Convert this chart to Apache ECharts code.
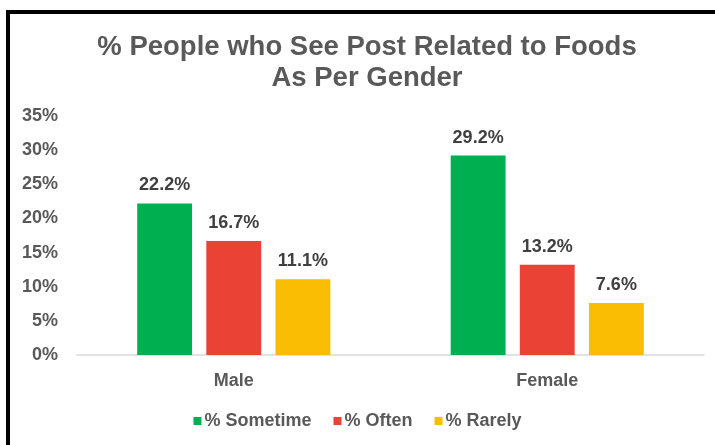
<!DOCTYPE html>
<html>
<head>
<meta charset="utf-8">
<script src="https://cdn.jsdelivr.net/npm/echarts@6/dist/echarts.min.js"></script>
<style>
html,body{margin:0;padding:0;background:#fff;}
#chart{position:absolute;left:0;top:0;width:715px;height:445px;}
#frame{position:absolute;left:6px;top:10px;width:720px;height:450px;border-left:4px solid #000;border-top:4px solid #000;pointer-events:none;}
</style>
</head>
<body>
<div id="chart"></div>
<div id="frame"></div>
<script>
var categories = ['Male', 'Female'];
var sometime = [22.2, 29.2];
var often = [16.7, 13.2];
var rarely = [11.1, 7.6];
var seriesNames = ['% Sometime', '% Often', '% Rarely'];
var yTicks = {min: 0, max: 35, interval: 5};

var chart = echarts.init(document.getElementById('chart'));
var labelStyle = {
  show: true, position: 'top', distance: 9,
  color: '#404040', fontSize: 18, fontWeight: 'bold', fontFamily: 'Liberation Sans, Arial, sans-serif',
  formatter: function (p) { return p.value.toFixed(1) + '%'; }
};
function mk(name, data, color) {
  return {
    name: name, type: 'bar', data: data, barWidth: '17.5%', barGap: '26%',
    itemStyle: {color: color}, label: labelStyle
  };
}
chart.setOption({
  animation: false,
  textStyle: {fontFamily: 'Liberation Sans, Arial, sans-serif'},
  title: {
    text: '% People who See Post Related to Foods\nAs Per Gender',
    left: 362, top: 27, textAlign: 'center',
    textStyle: {color: '#595959', fontSize: 27.5, fontWeight: 'bold', lineHeight: 31, fontFamily: 'Liberation Sans, Arial, sans-serif'}
  },
  legend: {
    data: seriesNames, bottom: 10, left: 'center', itemWidth: 8, itemHeight: 8, itemGap: 22,
    icon: 'rect',
    textStyle: {color: '#595959', fontSize: 18, fontWeight: 'bold', padding: [0, 0, 0, -2]}
  },
  grid: {left: 77, right: 11, top: 116, bottom: 90, containLabel: false},
  xAxis: {
    type: 'category', data: categories,
    axisLine: {lineStyle: {color: '#d9d9d9', width: 1.5}},
    axisTick: {show: false},
    axisLabel: {color: '#595959', fontSize: 18, fontWeight: 'bold', margin: 17}
  },
  yAxis: {
    type: 'value', min: yTicks.min, max: yTicks.max, interval: yTicks.interval,
    axisLine: {show: false}, axisTick: {show: false}, splitLine: {show: false},
    axisLabel: {color: '#595959', fontSize: 18, fontWeight: 'bold', margin: 19, formatter: '{value}%'}
  },
  series: [
    mk(seriesNames[0], sometime, '#00B050'),
    mk(seriesNames[1], often, '#EA4335'),
    mk(seriesNames[2], rarely, '#FBBC04')
  ]
});
</script>
</body>
</html>
